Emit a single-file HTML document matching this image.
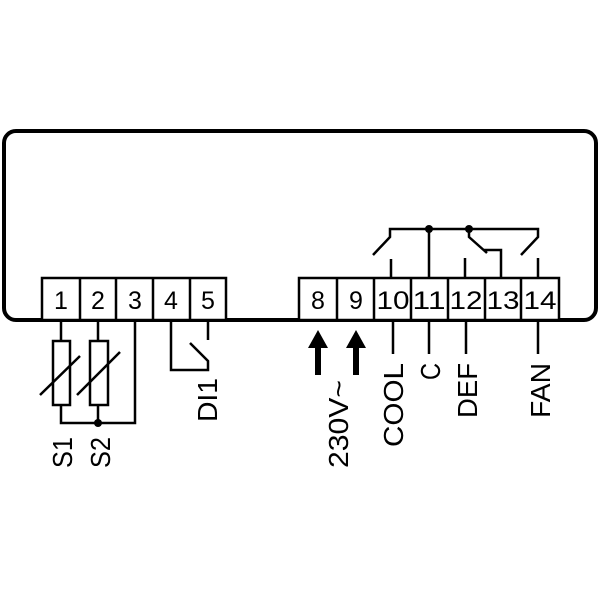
<!DOCTYPE html>
<html><head><style>body{margin:0;background:#fff}svg{display:block}text{font-family:"Liberation Sans",sans-serif;fill:#000}</style></head>
<body>
<svg width="600" height="600" viewBox="0 0 600 600" xmlns="http://www.w3.org/2000/svg">
<rect x="4" y="131" width="592" height="189" rx="12" fill="none" stroke="#000" stroke-width="4"/>
<g fill="#fff" stroke="#000" stroke-width="2.5">
<rect x="42" y="278" width="184" height="42"/>
<rect x="299" y="278" width="260" height="42"/>
</g>
<g stroke="#000" stroke-width="2.5" fill="none">
<path d="M80 278V320M116 278V320M153 278V320M190 278V320"/>
<path d="M337 278V320M374 278V320M411 278V320M448 278V320M485 278V320M521 278V320"/>
<path d="M61 320V341M61 405V423H135V320M98 320V341M98 405V423"/>
<rect x="53" y="341" width="17" height="64"/>
<rect x="90" y="341" width="18" height="64"/>
<path d="M40 395L80 356M77 395L120 352"/>
<path d="M171 320V370H208V361L190 343M208 320V340"/>
<path d="M393 320V354M429 320V354M466 320V354M538 320V354"/>
<path d="M373 255L390 237V229H538V237L521 255"/>
<path d="M429 229V278M469 229V237L487 253M484 250H501V278"/>
<path d="M391 259V278M465 258V278M538 258V278"/>
</g>
<circle cx="98" cy="423" r="4"/>
<circle cx="429" cy="229" r="4"/>
<circle cx="469" cy="229" r="4"/>
<g>
<path d="M318 330L328 348H321V375H315V348H308Z"/>
<path d="M356 330L366 348H359V375H353V348H346Z"/>
</g>
<g font-size="25" text-anchor="middle">
<text x="61" y="309">1</text><text x="98" y="309">2</text><text x="135" y="309">3</text>
<text x="171" y="309">4</text><text x="208" y="309">5</text>
<text x="318" y="309">8</text><text x="356" y="309">9</text>
<text x="393" y="309" textLength="33" lengthAdjust="spacingAndGlyphs">10</text><text x="429" y="309" textLength="33" lengthAdjust="spacingAndGlyphs">11</text>
<text x="466" y="309" textLength="33" lengthAdjust="spacingAndGlyphs">12</text><text x="503" y="309" textLength="33" lengthAdjust="spacingAndGlyphs">13</text>
<text x="540" y="309" textLength="33" lengthAdjust="spacingAndGlyphs">14</text>
</g>
<g font-size="28">
<text transform="translate(72,468) rotate(-90)" textLength="31" lengthAdjust="spacingAndGlyphs">S1</text>
<text transform="translate(110,468) rotate(-90)" textLength="31" lengthAdjust="spacingAndGlyphs">S2</text>
<text transform="translate(217,422) rotate(-90)" textLength="44" lengthAdjust="spacingAndGlyphs">DI1</text>
<text transform="translate(348,468) rotate(-90)" textLength="88" lengthAdjust="spacingAndGlyphs">230V~</text>
<text transform="translate(403,447) rotate(-90)" textLength="84" lengthAdjust="spacingAndGlyphs">COOL</text>
<text transform="translate(440,380) rotate(-90)" textLength="17" lengthAdjust="spacingAndGlyphs">C</text>
<text transform="translate(477,418) rotate(-90)" textLength="55" lengthAdjust="spacingAndGlyphs">DEF</text>
<text transform="translate(550,418) rotate(-90)" textLength="55" lengthAdjust="spacingAndGlyphs">FAN</text>
</g>
</svg>
</body></html>
